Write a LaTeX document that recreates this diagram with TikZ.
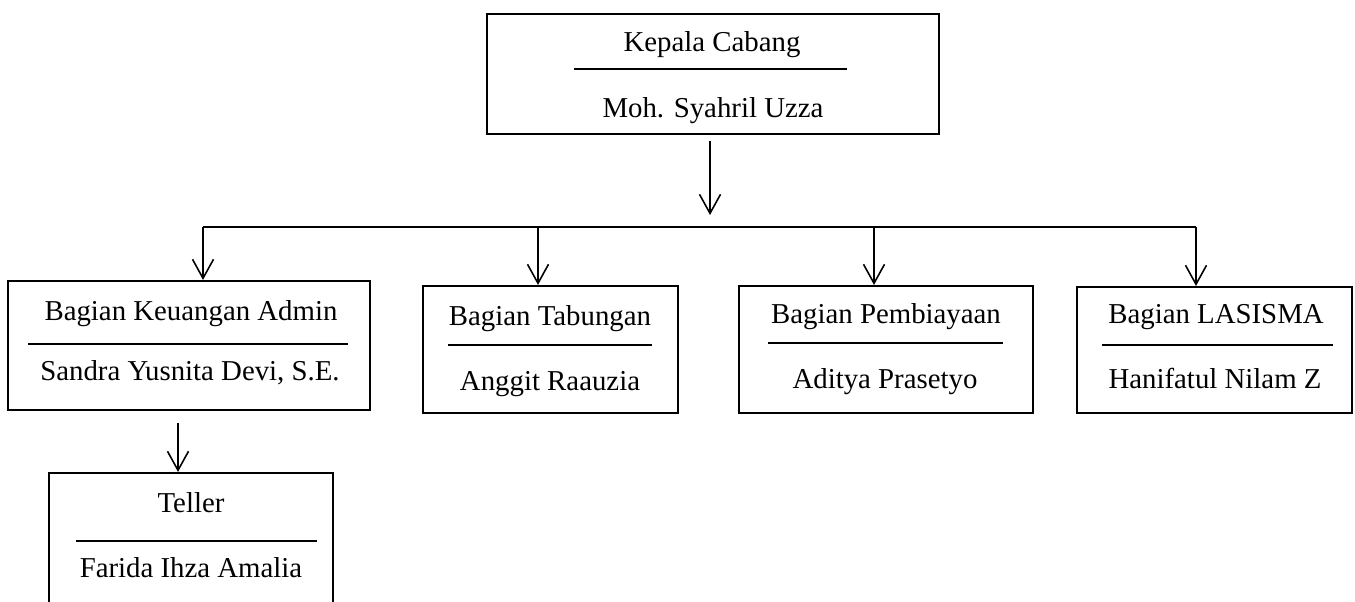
\documentclass[tikz,border=0pt]{standalone}
\usepackage{fontspec}
\setmainfont{Liberation Serif}
\usetikzlibrary{arrows.meta}

\begin{document}
\begin{tikzpicture}[auto,scale=1.0]
	\tikzstyle{box}=[rectangle,draw,line width=1.2pt,inner sep=0pt]
	\tikzstyle{entry}=[anchor=base,inner sep=0pt,font=\fontsize{16.4}{20}\selectfont]
	\tikzstyle{rule}=[line width=1pt]
	\tikzstyle{down}=[line width=0.9pt,-{Straight Barb[length=3.8mm,width=4.2mm]}]
	\useasboundingbox (0,0) rectangle (27.1,-12.04);
	% boxes
	\node (kepala)     at (14.26,-1.48)  [box,minimum width=9.04cm,minimum height=2.4cm]  {};
	\node (keuangan)   at (3.78,-6.91)   [box,minimum width=7.24cm,minimum height=2.58cm] {};
	\node (tabungan)   at (11.01,-6.99)  [box,minimum width=5.1cm,minimum height=2.54cm]  {};
	\node (pembiayaan) at (17.72,-6.99)  [box,minimum width=5.88cm,minimum height=2.54cm] {};
	\node (lasisma)    at (24.29,-7.0)   [box,minimum width=5.5cm,minimum height=2.52cm]  {};
	\node (teller)     at (3.82,-10.83)  [box,minimum width=5.68cm,minimum height=2.74cm] {};
	% jabatan / nama
	\node (kepala1)     at (14.24,-1.04)  [entry] {Kepala Cabang};
	\node (kepala2)     at (14.26,-2.36)  [entry] {Moh. Syahril Uzza};
	\node (keuangan1)   at (3.82,-6.40)   [entry] {Bagian Keuangan Admin};
	\node (keuangan2)   at (3.80,-7.60)   [entry] {Sandra Yusnita Devi, S.E.};
	\node (tabungan1)   at (11.0,-6.5)    [entry] {Bagian Tabungan};
	\node (tabungan2)   at (11.0,-7.8)    [entry] {Anggit Raauzia};
	\node (pembiayaan1) at (17.72,-6.46)  [entry] {Bagian Pembiayaan};
	\node (pembiayaan2) at (17.7,-7.76)   [entry] {Aditya Prasetyo};
	\node (lasisma1)    at (24.32,-6.46)  [entry] {Bagian LASISMA};
	\node (lasisma2)    at (24.3,-7.76)   [entry] {Hanifatul Nilam Z};
	\node (teller1)     at (3.82,-10.24)  [entry] {Teller};
	\node (teller2)     at (3.82,-11.54)  [entry] {Farida Ihza Amalia};
	\draw [rule] (11.48,-1.38) -- (16.94,-1.38);
	\draw [rule] (0.56,-6.88)  -- (6.96,-6.88);
	\draw [rule] (8.96,-6.9)   -- (13.04,-6.9);
	\draw [rule] (15.36,-6.86) -- (20.06,-6.86);
	\draw [rule] (22.04,-6.9)  -- (26.66,-6.9);
	\draw [rule] (1.52,-10.82) -- (6.34,-10.82);
	% garis komando
	\coordinate (split) at (14.2,-4.3);
	\coordinate (bus1)  at (4.06,-4.54);
	\coordinate (bus2)  at (10.76,-4.54);
	\coordinate (bus3)  at (17.48,-4.54);
	\coordinate (bus4)  at (23.92,-4.54);
	\draw [down] ([xshift=-0.06cm,yshift=-0.12cm]kepala.south) -- (split);
	\draw [line width=0.9pt] (bus1) -- (bus4);
	\draw [down] (bus1) -- (bus1 |- keuangan.north);
	\draw [down] (bus2) -- (bus2 |- tabungan.north);
	\draw [down] (bus3) -- (bus3 |- pembiayaan.north);
	\draw [down] (bus4) -- (bus4 |- lasisma.north);
	\draw [down] ([xshift=-0.22cm,yshift=-0.24cm]keuangan.south) -- ([xshift=-0.26cm]teller.north);
\end{tikzpicture}
\end{document}
